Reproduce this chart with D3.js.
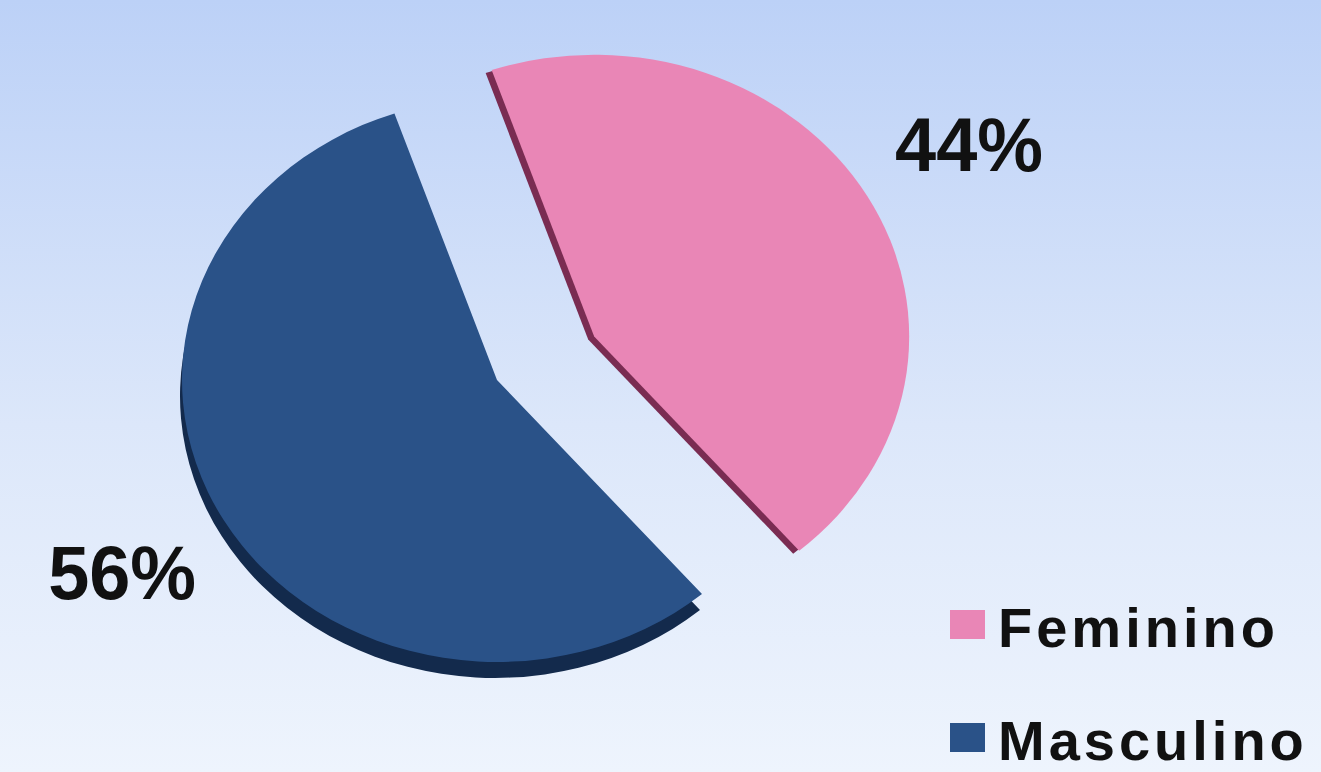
<!DOCTYPE html>
<html>
<head>
<meta charset="utf-8">
<script src="https://cdn.jsdelivr.net/npm/d3@7"></script>
<style>
  html, body { margin: 0; padding: 0; overflow: hidden; }
  svg { display: block; }
</style>
</head>
<body>
<div id="chart"></div>
<script>
// data
const categories = ['Feminino', 'Masculino'];
const values = [44, 56];
const labels = ['44%', '56%'];
const colors = ['#e986b6', '#2a5288'];
const sideColors = ['#7a2c52', '#132a4c'];

const width = 1321;
const height = 772;

const svg = d3.select('#chart')
  .append('svg')
  .attr('width', width)
  .attr('height', height);

// background gradient
const defs = svg.append('defs');
const bg = defs.append('linearGradient')
  .attr('id', 'bg')
  .attr('x1', 0).attr('y1', 0).attr('x2', 0).attr('y2', 1);
bg.append('stop').attr('offset', '0%').attr('stop-color', '#bcd1f7');
bg.append('stop').attr('offset', '55%').attr('stop-color', '#dce7fa');
bg.append('stop').attr('offset', '100%').attr('stop-color', '#eef4fd');

svg.append('rect')
  .attr('width', width)
  .attr('height', height)
  .attr('fill', 'url(#bg)');

// pie, tilted (drawn as an ellipse)
const cx = 497, cy = 380;
const radius = 315;
const tilt = 0.895;
const explode = 112;
const explodeTilt = 0.78;

const pie = d3.pie()
  .sort(null)
  .value(d => d)
  .startAngle(-19 * Math.PI / 180)
  .endAngle(341 * Math.PI / 180);

const arcs = pie(values);

const arc = d3.arc().innerRadius(0).outerRadius(radius);

// the Feminino slice is pulled out
function offset(d, i) {
  if (i !== 0) return [0, 0];
  const mid = (d.startAngle + d.endAngle) / 2;
  return [explode * Math.sin(mid), -explode * Math.cos(mid) * explodeTilt];
}

// thickness of each slice (visible side)
const sideShift = [[-6, 3], [-2, 16]];

const pieG = svg.append('g');

pieG.selectAll('path.side')
  .data(arcs)
  .enter()
  .append('path')
  .attr('class', 'side')
  .attr('transform', (d, i) => {
    const o = offset(d, i);
    return `translate(${cx + o[0] + sideShift[i][0]},${cy + o[1] + sideShift[i][1]}) scale(1,${tilt})`;
  })
  .attr('d', arc)
  .attr('fill', (d, i) => sideColors[i]);

pieG.selectAll('path.top')
  .data(arcs)
  .enter()
  .append('path')
  .attr('class', 'top')
  .attr('transform', (d, i) => {
    const o = offset(d, i);
    return `translate(${cx + o[0]},${cy + o[1]}) scale(1,${tilt})`;
  })
  .attr('d', arc)
  .attr('fill', (d, i) => colors[i]);

// percentage labels
const labelArc = d3.arc().innerRadius(432).outerRadius(432);

svg.selectAll('text.pct')
  .data(arcs)
  .enter()
  .append('text')
  .attr('class', 'pct')
  .attr('x', (d, i) => cx + offset(d, i)[0] + labelArc.centroid(d)[0])
  .attr('y', (d, i) => cy + offset(d, i)[1] + labelArc.centroid(d)[1] * tilt)
  .attr('text-anchor', 'middle')
  .attr('dominant-baseline', 'central')
  .attr('font-family', 'Liberation Sans, Arial, sans-serif')
  .attr('font-weight', 'bold')
  .attr('font-size', '76px')
  .attr('textLength', 148)
  .attr('lengthAdjust', 'spacingAndGlyphs')
  .attr('fill', '#111')
  .text((d, i) => labels[i]);

// legend
const legend = svg.append('g')
  .attr('transform', 'translate(950, 610)');

const legendItem = legend.selectAll('g')
  .data(categories)
  .enter()
  .append('g')
  .attr('transform', (d, i) => `translate(0, ${i * 113})`);

legendItem.append('rect')
  .attr('x', 0)
  .attr('y', 0)
  .attr('width', 35)
  .attr('height', 29)
  .attr('fill', (d, i) => colors[i]);

legendItem.append('text')
  .attr('x', 48)
  .attr('y', 37)
  .attr('font-family', 'Liberation Sans, Arial, sans-serif')
  .attr('font-weight', 'bold')
  .attr('font-size', '56px')
  .attr('letter-spacing', '4px')
  .attr('fill', '#111')
  .text(d => d);
</script>
</body>
</html>
